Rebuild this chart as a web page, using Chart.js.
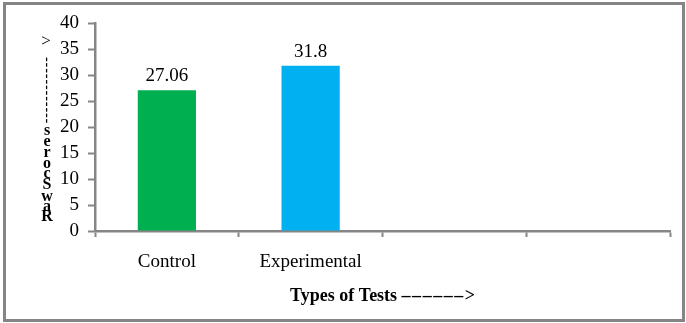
<!DOCTYPE html>
<html>
<head>
<meta charset="utf-8">
<script src="https://cdn.jsdelivr.net/npm/chart.js@4/dist/chart.umd.min.js"></script>
<style>
  html, body { margin: 0; padding: 0; background: #fff; }
  #wrap { width: 686px; height: 323px; position: relative; }
</style>
</head>
<body>
<div id="wrap"><canvas id="c" width="686" height="323"></canvas></div>
<script>
// Test groups and their mean raw scores (last two slots are left empty)
const categories = ['Control', 'Experimental', '', ''];
const rawScores = [27.06, 31.8, null, null];
const barColors = ['#00B050', '#00B0F0', '#00B050', '#00B0F0'];

// Value axis range
const yMin = 0;
const yMax = 40;
const yStep = 5;

// Axis captions
const xTitleText = 'Types of Tests ' + '\u2013\u200A'.repeat(6) + '>';
const yTitleWords = 'Raw Scores';
const yTitleDashCount = 12;

const SERIF = '"Liberation Serif", "Times New Roman", serif';
const AXIS_GREY = '#868686';

// Grey frame around the whole figure
const framePlugin = {
  id: 'frame',
  beforeDraw(chart) {
    const ctx = chart.ctx;
    ctx.save();
    ctx.fillStyle = '#fff';
    ctx.fillRect(0, 0, chart.width, chart.height);
    ctx.strokeStyle = '#858585';
    ctx.lineWidth = 3;
    ctx.strokeRect(4.5, 3.5, chart.width - 7, chart.height - 6);
    ctx.restore();
  }
};

// Value printed above each bar
const valueLabelPlugin = {
  id: 'valueLabels',
  afterDatasetsDraw(chart) {
    const ctx = chart.ctx;
    const meta = chart.getDatasetMeta(0);
    ctx.save();
    ctx.font = '19px ' + SERIF;
    ctx.fillStyle = '#000';
    ctx.textAlign = 'center';
    ctx.textBaseline = 'alphabetic';
    meta.data.forEach((bar, i) => {
      const v = chart.data.datasets[0].data[i];
      if (v === null || v === undefined) return;
      ctx.fillText(String(v), bar.x, bar.y - 9);
    });
    ctx.restore();
  }
};

// Vertical caption: upright letters stacked bottom to top, then a dashed arrow
const stackedYTitlePlugin = {
  id: 'stackedYTitle',
  afterDraw(chart) {
    const ctx = chart.ctx;
    const cx = 47;
    ctx.save();
    ctx.font = 'bold 16px ' + SERIF;
    ctx.fillStyle = '#000';
    ctx.textAlign = 'center';
    ctx.textBaseline = 'alphabetic';
    // baselines for R a w _ S c o r e s
    const baselines = [221, 211, 201, null, 189, 178, 168, 157, 146, 135];
    const chars = yTitleWords.split('');
    chars.forEach((ch, i) => {
      if (ch === ' ' || baselines[i] === null) return;
      ctx.fillText(ch, cx, baselines[i]);
    });
    // dashes turned upright
    ctx.font = 'bold 14px ' + SERIF;
    ctx.textBaseline = 'middle';
    for (let k = 0; k < yTitleDashCount; k++) {
      const y = 121 - k * 5.6;
      ctx.save();
      ctx.translate(cx - 1, y);
      ctx.rotate(-Math.PI / 2);
      ctx.fillText('-', 0, 0);
      ctx.restore();
    }
    ctx.font = '17px ' + SERIF;
    ctx.textBaseline = 'alphabetic';
    ctx.fillText('>', cx - 1, 46);
    ctx.restore();
  }
};

new Chart(document.getElementById('c'), {
  type: 'bar',
  data: {
    labels: categories,
    datasets: [{
      data: rawScores,
      backgroundColor: barColors,
      borderWidth: 0,
      barPercentage: 0.405,
      categoryPercentage: 1.0
    }]
  },
  options: {
    responsive: false,
    animation: false,
    devicePixelRatio: 1,
    layout: { padding: { left: 0, right: 16, top: 23, bottom: 0 } },
    plugins: {
      legend: { display: false },
      tooltip: { enabled: false },
      title: { display: false }
    },
    scales: {
      x: {
        type: 'category',
        offset: true,
        grid: {
          display: true,
          drawOnChartArea: false,
          drawTicks: true,
          tickLength: 6,
          tickWidth: 2,
          tickColor: AXIS_GREY,
          offset: true
        },
        border: { display: true, color: AXIS_GREY, width: 2.5 },
        ticks: {
          color: '#000',
          font: { family: SERIF, size: 19 },
          padding: 14,
          maxRotation: 0,
          autoSkip: false
        },
        title: {
          display: true,
          text: xTitleText,
          color: '#000',
          font: { family: SERIF, size: 18, weight: 'bold' },
          padding: { top: 0, bottom: 16 }
        },
        afterFit(scale) { scale.height = 92; }
      },
      y: {
        min: yMin,
        max: yMax,
        grid: {
          display: true,
          drawOnChartArea: false,
          drawTicks: true,
          tickLength: 7,
          tickWidth: 2,
          tickColor: AXIS_GREY
        },
        border: { display: true, color: AXIS_GREY, width: 2.5 },
        ticks: {
          stepSize: yStep,
          color: '#000',
          font: { family: SERIF, size: 19 },
          padding: 9
        },
        afterFit(scale) { scale.width = 95; }
      }
    }
  },
  plugins: [framePlugin, valueLabelPlugin, stackedYTitlePlugin]
});
</script>
</body>
</html>
